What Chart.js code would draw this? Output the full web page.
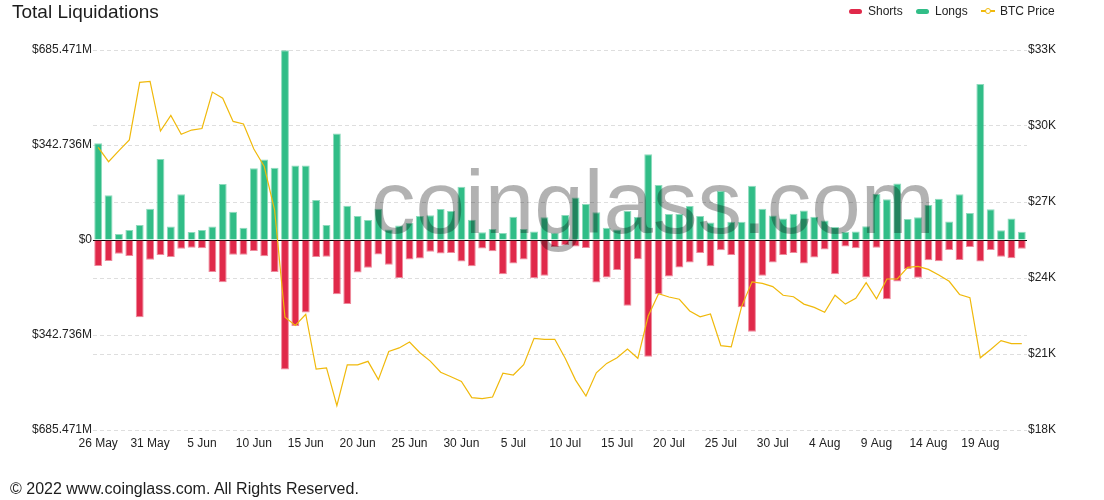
<!DOCTYPE html>
<html><head><meta charset="utf-8">
<script src="https://cdn.jsdelivr.net/npm/chart.js@4.4.1/dist/chart.umd.min.js"></script>
<style>
html,body{margin:0;padding:0;background:#fff;}
body{width:1104px;height:500px;position:relative;overflow:hidden;font-family:"Liberation Sans",Arial,Helvetica,sans-serif;color:#222;}
#c{position:absolute;left:0;top:0;}
.title{position:absolute;left:12px;top:2px;font-size:19px;line-height:19px;color:#1c1c1c;white-space:nowrap;}
.footer{position:absolute;left:10px;top:481px;font-size:16px;line-height:16px;color:#1c1c1c;white-space:nowrap;}
.lg{position:absolute;top:5px;font-size:12px;line-height:12px;color:#222;white-space:nowrap;}
.sw{position:absolute;top:9px;width:13px;height:5px;border-radius:3px;}
.ln{position:absolute;top:10px;left:981px;width:14px;height:2px;background:#f0b90b;}
.dot{position:absolute;top:8px;left:985px;width:4px;height:4px;border:1.5px solid #f0b90b;border-radius:50%;background:#fff;}
</style></head>
<body>
<canvas id="c" width="1104" height="500"></canvas>
<div class="title">Total Liquidations</div>
<div class="sw" style="left:849px;background:#e0294a"></div><div class="lg" style="left:868px">Shorts</div>
<div class="sw" style="left:916px;background:#31bd87"></div><div class="lg" style="left:935px">Longs</div>
<div class="ln"></div><div class="dot"></div><div class="lg" style="left:1000px">BTC Price</div>
<div class="footer">© 2022 www.coinglass.com. All Rights Reserved.</div>
<script>
const categories = [
 '26 May','27 May','28 May','29 May','30 May','31 May',
 '1 Jun','2 Jun','3 Jun','4 Jun','5 Jun','6 Jun','7 Jun','8 Jun','9 Jun','10 Jun',
 '11 Jun','12 Jun','13 Jun','14 Jun','15 Jun','16 Jun','17 Jun','18 Jun','19 Jun','20 Jun',
 '21 Jun','22 Jun','23 Jun','24 Jun','25 Jun','26 Jun','27 Jun','28 Jun','29 Jun','30 Jun',
 '1 Jul','2 Jul','3 Jul','4 Jul','5 Jul','6 Jul','7 Jul','8 Jul','9 Jul','10 Jul',
 '11 Jul','12 Jul','13 Jul','14 Jul','15 Jul','16 Jul','17 Jul','18 Jul','19 Jul','20 Jul',
 '21 Jul','22 Jul','23 Jul','24 Jul','25 Jul','26 Jul','27 Jul','28 Jul','29 Jul','30 Jul','31 Jul',
 '1 Aug','2 Aug','3 Aug','4 Aug','5 Aug','6 Aug','7 Aug','8 Aug','9 Aug','10 Aug',
 '11 Aug','12 Aug','13 Aug','14 Aug','15 Aug','16 Aug','17 Aug','18 Aug','19 Aug','20 Aug',
 '21 Aug','22 Aug','23 Aug'
];
// Long liquidations, $M
const longsM = [
 349,161,22,36,54,113,292,49,165,29,
 36,49,202,102,44,259,290,261,685,269,
 269,144,54,384,124,87,72,113,38,52,
 61,87,89,112,105,192,73,28,40,25,
 84,40,31,82,26,90,153,130,100,44,
 38,105,83,309,198,94,94,123,87,63,
 177,66,66,196,113,88,78,95,106,84,
 70,47,29,31,50,166,147,204,76,82,
 126,149,67,165,97,563,111,35,78,30
];
// Short liquidations, $M (drawn below zero)
const shortsM = [
 -94,-76,-50,-58,-279,-71,-54,-61,-32,-28,
 -30,-115,-152,-53,-53,-40,-59,-115,-467,-310,
 -262,-61,-60,-196,-231,-117,-100,-52,-89,-137,
 -70,-67,-42,-49,-47,-78,-95,-31,-41,-124,
 -85,-70,-138,-129,-25,-18,-23,-29,-153,-135,
 -108,-237,-69,-421,-196,-132,-99,-81,-47,-95,
 -37,-54,-243,-331,-129,-81,-54,-47,-85,-63,
 -34,-124,-23,-30,-135,-28,-214,-150,-105,-136,
 -73,-77,-36,-72,-25,-78,-36,-60,-66,-32
];
// BTC price, $
const btcPrice = [
 29160,28590,29030,29450,31720,31760,29800,30420,29670,29840,
 29900,31340,31100,30180,30080,29090,28400,26680,22450,22130,
 22570,20400,20450,18960,20570,20570,20710,19990,21100,21240,
 21470,21050,20720,20280,20100,19920,19280,19240,19300,20240,
 20170,20580,21620,21580,21580,20830,19970,19340,20260,20630,
 20850,21200,20830,22500,23380,23250,23160,22700,22470,22580,
 21330,21280,22870,23850,23790,23660,23320,23260,22970,22840,
 22650,23320,22970,23200,23820,23180,23960,23960,24420,24460,
 24340,24120,23870,23350,23220,20850,21180,21530,21410,21410
];
const leftTickValues = [-685.471, -342.7355, 0, 342.7355, 685.471];
const leftTickLabels = ['$685.471M', '$342.736M', '$0', '$342.736M', '$685.471M'];
const rightTickValues = [18000, 21000, 24000, 27000, 30000, 33000];
const rightTickLabels = ['$18K', '$21K', '$24K', '$27K', '$30K', '$33K'];

const FONT = '"Liberation Sans", Arial, Helvetica, sans-serif';
const GRID = '#dedede';

const watermark = {
  id: 'wm',
  afterDatasetsDraw(chart) {
    const c = chart.ctx, a = chart.chartArea;
    c.save();
    c.font = '89px ' + FONT;
    c.fillStyle = 'rgba(0,0,0,0.3)';
    c.textAlign = 'center';
    c.textBaseline = 'alphabetic';
    c.fillText('coinglass.com', (a.left + a.right) / 2 + 93, a.top + 183);
    c.restore();
  }
};

const dashFn = c => (c.tick && c.tick.value === 0) ? [] : [4, 3];

new Chart(document.getElementById('c').getContext('2d'), {
  type: 'bar',
  data: {
    labels: categories,
    datasets: [
      { type: 'line', label: 'BTC Price', data: btcPrice, yAxisID: 'y1', borderColor: '#f0b90b',
        borderWidth: 1.2, pointRadius: 0, tension: 0, fill: false, order: 0 },
      { label: 'Shorts', data: shortsM, yAxisID: 'y', backgroundColor: '#e0294a',
        borderColor: 'rgba(224,41,74,0.55)', borderWidth: 1, order: 1, stack: 'liq' },
      { label: 'Longs', data: longsM, yAxisID: 'y', backgroundColor: '#31bd87',
        borderColor: 'rgba(49,189,135,0.55)', borderWidth: 1, order: 1, stack: 'liq' }
    ]
  },
  options: {
    responsive: false,
    animation: false,
    devicePixelRatio: 1,
    layout: { padding: { left: 0, right: 0, top: 50, bottom: 40 } },
    datasets: { bar: { categoryPercentage: 0.8, barPercentage: 0.95 } },
    plugins: { legend: { display: false }, title: { display: false }, tooltip: { enabled: false } },
    scales: {
      x: {
        stacked: true,
        grid: { display: false, drawTicks: false },
        border: { display: false },
        ticks: { autoSkip: false, maxRotation: 0, minRotation: 0, padding: 6, color: '#222',
          font: { size: 12, family: FONT },
          callback: (v, i) => (i % 5 === 0 ? categories[i] : '') },
        afterFit: s => { s.height = 30; }
      },
      y: {
        position: 'left', stacked: true, min: -685.471, max: 685.471,
        afterBuildTicks: ax => { ax.ticks = leftTickValues.map(v => ({ value: v })); },
        ticks: { padding: 1, color: '#222', font: { size: 12, family: FONT },
          callback: (v) => leftTickLabels[leftTickValues.indexOf(v)] },
        grid: { drawTicks: false, lineWidth: 1, color: c => (c.tick && c.tick.value === 0) ? '#000' : GRID },
        border: { display: false, dash: dashFn },
        afterFit: s => { s.width = 93; }
      },
      y1: {
        position: 'right', min: 18000, max: 33000,
        afterBuildTicks: ax => { ax.ticks = rightTickValues.map(v => ({ value: v })); },
        ticks: { padding: 1, color: '#222', font: { size: 12, family: FONT },
          callback: (v) => rightTickLabels[rightTickValues.indexOf(v)] },
        grid: { drawTicks: false, lineWidth: 1, color: GRID },
        border: { display: false, dash: [4, 3] },
        afterFit: s => { s.width = 77; }
      }
    }
  },
  plugins: [watermark]
});
</script>
</body></html>
